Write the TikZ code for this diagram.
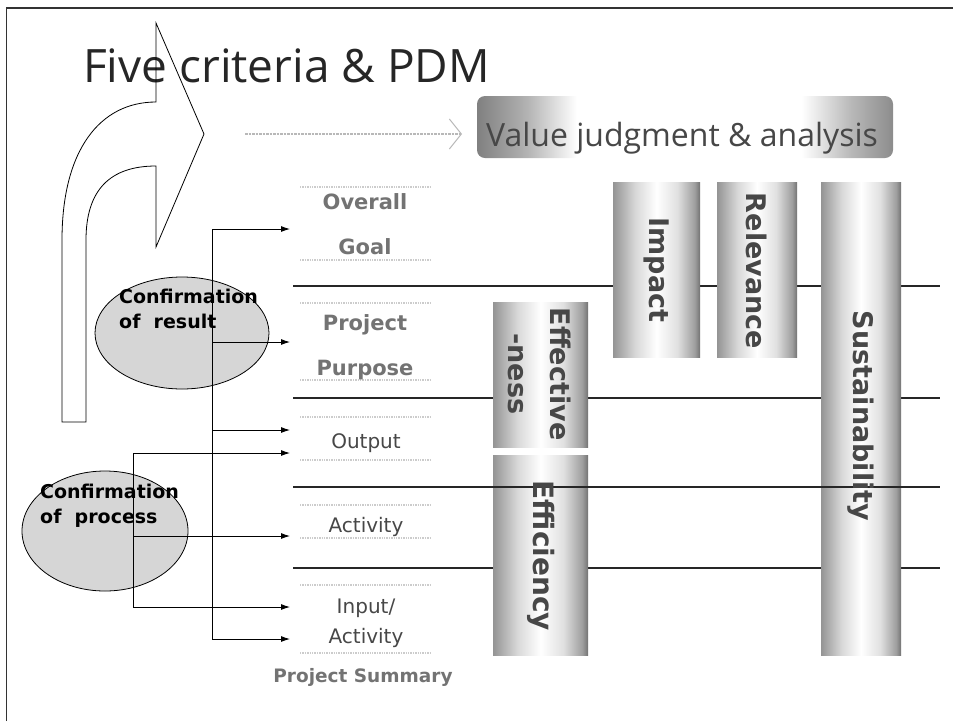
\documentclass[tikz,border=0pt]{standalone}
\usepackage{fontspec}
\setmainfont{DejaVu Sans}
\newfontfamily\titlefont{Open Sans}
\usetikzlibrary{arrows.meta,shapes.geometric}

% column shading: darker edges, light centre
\pgfdeclarehorizontalshading{barshade}{100bp}{color(0bp)=(black!42); color(25bp)=(black!42); color(38bp)=(black!15); color(50bp)=(white); color(62bp)=(black!12); color(72bp)=(black!38); color(75bp)=(black!55); color(100bp)=(black!55)}
% heading box shading
\pgfdeclarehorizontalshading{boxshade}{100bp}{color(0bp)=(black!50); color(25bp)=(black!50); color(31bp)=(black!30); color(37bp)=(white); color(64bp)=(white); color(70bp)=(black!28); color(75bp)=(black!45); color(100bp)=(black!45)}

\tikzset{
  rowline/.style={line width=1.4pt, black!85},
  faint/.style={line width=1.4pt, black!20, densely dotted},
  colbar/.style={shading=barshade},
  coltext/.style={rotate=-90, font=\bfseries\fontsize{27}{30}\selectfont, text=black!72, inner sep=0pt},
  rowbold/.style={font=\bfseries\fontsize{21}{24}\selectfont, text=black!55, inner sep=0pt, anchor=base},
  rowreg/.style={font=\fontsize{20}{23}\selectfont, text=black!72, inner sep=0pt, anchor=base},
  conf/.style={ellipse, draw=black, line width=0.8pt, fill=black!16, inner sep=0pt},
  conftext/.style={font=\bfseries\fontsize{19}{25}\selectfont, align=left, inner sep=0pt},
  conn/.style={line width=0.9pt, -{Latex[length=9pt,width=6pt]}},
  trunk/.style={line width=0.9pt},
}

\begin{document}
\begin{tikzpicture}[x=1pt,y=-1pt]
\useasboundingbox (0,0) rectangle (953,721);

% frame
\draw[line width=1.8pt, black!80] (6.5,721) -- (6.5,8) -- (953,8);

% faint rules around the summary entries
\foreach \yy in {187,260,303,380,417,460,505,538,585,653}
  \draw[faint] (300,\yy) -- (430,\yy);

% row separators
\foreach \yy in {286,398,568}
  \draw[rowline] (293,\yy) -- (940,\yy);

% criteria columns
\path[colbar] (613,182) rectangle (700,357);
\path[colbar] (717,182) rectangle (797,357);
\path[colbar] (821,182) rectangle (901,655);
\path[colbar] (493,302) rectangle (588,447);
\path[colbar] (493,455) rectangle (588,655);
\draw[rowline] (293,487) -- (940,487);

\node[coltext] (impact) at (657,270) {Impact};
\node[coltext] (relev) at (757,271) {Relevance};
\node[coltext] (sustain) at (861,416) {Sustainability};
\node[coltext, align=center, font=\bfseries\fontsize{27}{42}\selectfont] (effect) at (540,374) {Effective\\-ness};
\node[coltext, font=\bfseries\fontsize{28}{32}\selectfont] (effic) at (541,556) {Efficiency};

% heading box
\path[shading=boxshade, rounded corners=8pt] (477,96) rectangle (893,158);
\node[font=\titlefont\fontsize{32}{36}\selectfont, text=black!72, anchor=base, inner sep=0pt] (vj) at (682,146) {Value judgment \& analysis};

% faint arrow towards the heading box
\coordinate (fa) at (245,134);
\coordinate (fb) at (462,134);
\draw[black!28, line width=2.5pt, densely dotted, -{Straight Barb[length=12pt,width=30pt,line width=1pt]}] (fa) -- (fb);

% title
\node[anchor=base west, inner sep=0pt, font=\titlefont\fontsize{46}{50}\selectfont, text=black!85] (title) at (83,82) {Five criteria \& PDM};

% big curved arrow
\draw[line width=0.8pt] (156,102) -- (156,23) -- (204,134) -- (156,247) -- (156,166)
  .. controls (110,166) and (86,190) .. (86,240) -- (86,422) -- (62,422) -- (62,240)
  .. controls (62,150) and (100,102) .. (156,102) -- cycle;

% confirmation ellipses
\node[conf, minimum width=174pt, minimum height=112pt] (res) at (182,333) {};
\node[conf, minimum width=166pt, minimum height=120pt] (proc) at (105,531) {};
\node[conftext, anchor=base west] (resT) at (119,328) {Confirmation\\of\ \ result};
\node[conftext, anchor=base west] (procT) at (40,523) {Confirmation\\of\ \ process};

% project summary entries
\node[rowbold] (overall) at (365,209) {Overall};
\node[rowbold] (goal) at (365,254) {Goal};
\node[rowbold] (project) at (365,330) {Project};
\node[rowbold] (purpose) at (365,375) {Purpose};
\node[rowreg] (output) at (366,448) {Output};
\node[rowreg] (activity) at (366,532) {Activity};
\node[rowreg] (input) at (366,613) {Input/};
\node[rowreg] (inact) at (366,643) {Activity};
\node[rowbold, font=\bfseries\fontsize{18.5}{22}\selectfont] (summary) at (363,682) {Project Summary};

% result trunk
\coordinate (a1) at (212,229);
\coordinate (a2) at (212,342);
\coordinate (a3) at (212,430);
\coordinate (a4) at (212,639);
\coordinate (ta1) at (290,229);
\coordinate (ta2) at (290,342);
\coordinate (ta3) at (290,430);
\coordinate (ta4) at (290,639);
\draw[trunk] (a1) -- (a4);
\draw[conn] (a1) -- (ta1);
\draw[conn] (a2) -- (ta2);
\draw[conn] (a3) -- (ta3);
\draw[conn] (a4) -- (ta4);

% process trunk
\coordinate (b1) at (133,453);
\coordinate (b2) at (133,536);
\coordinate (b3) at (133,607);
\coordinate (tb1) at (290,453);
\coordinate (tb2) at (290,536);
\coordinate (tb3) at (290,607);
\draw[trunk] (b1) -- (b3);
\draw[conn] (b1) -- (tb1);
\draw[conn] (b2) -- (tb2);
\draw[conn] (b3) -- (tb3);
\end{tikzpicture}
\end{document}
